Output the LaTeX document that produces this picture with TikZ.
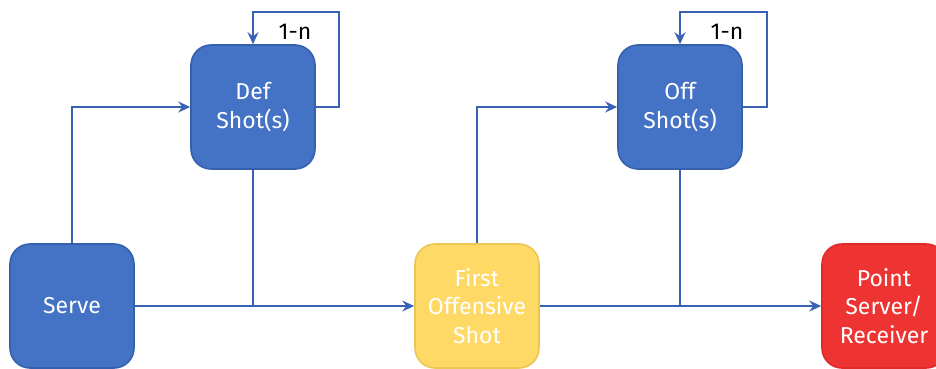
\documentclass[tikz,border=0pt]{standalone}
\usepackage{fontspec}
\setmainfont{Fira Sans}
\usetikzlibrary{arrows.meta}
\definecolor{shotblue}{HTML}{4472C4}
\definecolor{shotedge}{HTML}{3560AE}
\definecolor{lineblue}{HTML}{3A62B4}
\definecolor{firstyellow}{HTML}{FFD966}
\definecolor{firstedge}{HTML}{EBC654}
\definecolor{pointred}{HTML}{EE3333}
\definecolor{pointedge}{HTML}{DF2A2A}
\tikzset{
  stagebox/.style={rounded corners=20pt, line width=1.6pt, minimum width=124pt,
    minimum height=124pt, inner sep=0pt, align=center, text=white,
    font=\fontsize{23}{28.5}\selectfont},
  shotbox/.style={stagebox, draw=shotedge, fill=shotblue},
  firstbox/.style={stagebox, draw=firstedge, fill=firstyellow},
  pointbox/.style={stagebox, draw=pointedge, fill=pointred},
  link/.style={draw=lineblue, line width=1.9pt},
  flow/.style={link, -{Stealth[length=12pt, width=11pt, inset=4pt]}},
  repeats/.style={font=\fontsize{23}{26}\selectfont}
}

\begin{document}
\begin{tikzpicture}[x=1pt, y=-1pt]
  \useasboundingbox (0,0) rectangle (936,369);

  \node[shotbox] (serve) at (72,306) {Serve};
  \node[shotbox] (def) at (253,107) {Def\\Shot(s)};
  \node[firstbox] (first) at (477,306) {First\\Offensive\\Shot};
  \node[shotbox] (off) at (680,107) {Off\\Shot(s)};
  \node[pointbox] (point) at (884,306) {Point\\Server/\\Receiver};

  \coordinate (defloop) at (339,12);
  \coordinate (offloop) at (767,12);
  \coordinate (defjoin) at (253,306);
  \coordinate (offjoin) at (680,306);

  \draw[flow] (serve.north) |- (def.west);
  \draw[flow] (serve.east) -- (first.west);
  \draw[link] (def.south) -- (defjoin);
  \draw[flow] (def.east) -| (defloop) -| (def.north);
  \node[repeats] (defrep) at (295,32) {1-n};

  \draw[flow] (first.north) |- (off.west);
  \draw[flow] (first.east) -- (point.west);
  \draw[link] (off.south) -- (offjoin);
  \draw[flow] (off.east) -| (offloop) -| (off.north);
  \node[repeats] (offrep) at (727,32) {1-n};
\end{tikzpicture}
\end{document}
